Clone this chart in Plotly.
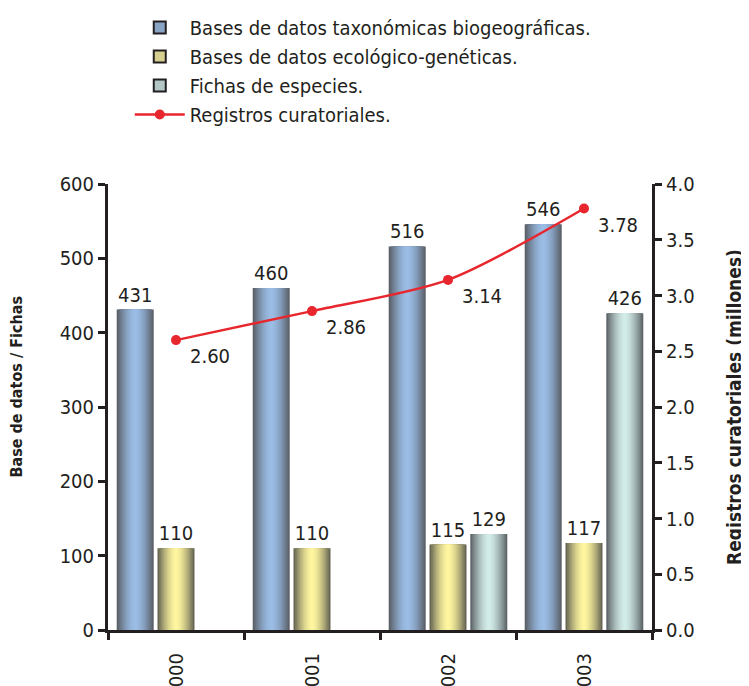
import plotly.graph_objects as go

years = ["2000", "2001", "2002", "2003"]
taxonomicas = [431, 460, 516, 546]
ecologicas = [110, 110, 115, 117]
fichas = [None, None, 129, 426]
registros = [2.60, 2.86, 3.14, 3.78]

FONT = "DejaVu Sans Condensed, Liberation Sans Narrow, sans-serif"
TXT = "#231f20"


def mix(c1, c2, t):
    a = [int(c1[i:i + 2], 16) for i in (1, 3, 5)]
    b = [int(c2[i:i + 2], 16) for i in (1, 3, 5)]
    return "#" + "".join(f"{round(x + (y - x) * t):02x}" for x, y in zip(a, b))


series = [
    ("Bases de datos taxonómicas biogeográficas.", taxonomicas, -0.30, "#9bbde6", "#565a60"),
    ("Bases de datos ecológico-genéticas.", ecologicas, 0.0, "#fff6a0", "#5c5c4e"),
    ("Fichas de especies.", fichas, 0.30, "#d2ece8", "#565c60"),
]

fig = go.Figure()

# gradient bars: stack of narrower and lighter overlays
width = 0.272
layers = 12
for name, vals, center, light, dark in series:
    for k in range(layers):
        w = width * (1 - k / layers)
        t = 1 - (k + 0.5) / layers
        fig.add_trace(go.Bar(
            x=years, y=vals, width=w, offset=center - w / 2,
            marker=dict(color=mix(light, dark, t ** 1.6), line=dict(width=0)),
            text=[str(v) if v is not None else "" for v in vals] if k == 0 else None,
            textposition="outside", cliponaxis=False,
            textfont=dict(family=FONT, size=20, color=TXT),
            showlegend=False, hoverinfo="skip" if k else None, name=name,
        ))
    # legend entry
    fig.add_trace(go.Bar(
        x=years, y=[None] * len(years), name=name, legendgroup=name,
        marker=dict(color=mix(light, "#565a60", 0.25), line=dict(color="#231f20", width=2)),
    ))

fig.add_trace(go.Scatter(
    x=years, y=registros, yaxis="y2", name="Registros curatoriales.",
    legendgroup="reg", mode="lines+markers",
    line=dict(color="#e8262d", width=2.5, shape="spline", smoothing=0.8),
    marker=dict(color="#e8262d", size=10), cliponaxis=False,
))

# value labels for the line (x given as category index)
for i, v in enumerate(registros):
    fig.add_annotation(
        x=i, y=v, yref="y2", text=f"{v:.2f}", showarrow=False,
        xshift=34, yshift=-16, font=dict(family=FONT, size=20, color=TXT),
    )

# left axis title, sits a little above the axis middle in the original
fig.add_annotation(
    text="Base de datos / Fichas", xref="paper", yref="paper", x=-0.168, y=0.545,
    textangle=-90, showarrow=False, xanchor="center", yanchor="middle",
    font=dict(family=FONT, size=16, color=TXT, weight="bold"),
)

axis_common = dict(
    showline=True, linecolor=TXT, linewidth=3, ticks="outside", ticklen=7,
    tickwidth=3, tickcolor=TXT, showgrid=False, zeroline=False, automargin=False,
    tickfont=dict(family=FONT, size=20, color=TXT),
)

fig.update_layout(
    width=749, height=686,
    # page body adds an 8px offset, margins compensate for it
    margin=dict(l=100, r=105, t=176, b=64, autoexpand=False),
    paper_bgcolor="white", plot_bgcolor="white",
    barmode="overlay",
    font=dict(family=FONT, color=TXT),
    xaxis=dict(**axis_common, type="category", range=[-0.5, 3.5], tickangle=-90,
               tickson="boundaries", ticklabelstandoff=12),
    yaxis=dict(**axis_common, range=[0, 600], dtick=100),
    yaxis2=dict(
        **axis_common, overlaying="y", side="right", range=[0, 4.0], dtick=0.5,
        tickformat=".1f",
        title=dict(text="Registros curatoriales (millones)", standoff=35,
                   font=dict(family=FONT, size=19, color=TXT, weight="bold")),
    ),
    legend=dict(
        x=0.04, y=1.0, xref="paper", yref="container", xanchor="left", yanchor="top",
        traceorder="normal", font=dict(family=FONT, size=20, color=TXT),
        tracegroupgap=4, itemwidth=50, bgcolor="rgba(0,0,0,0)",
    ),
)

fig.write_html("out.html")
